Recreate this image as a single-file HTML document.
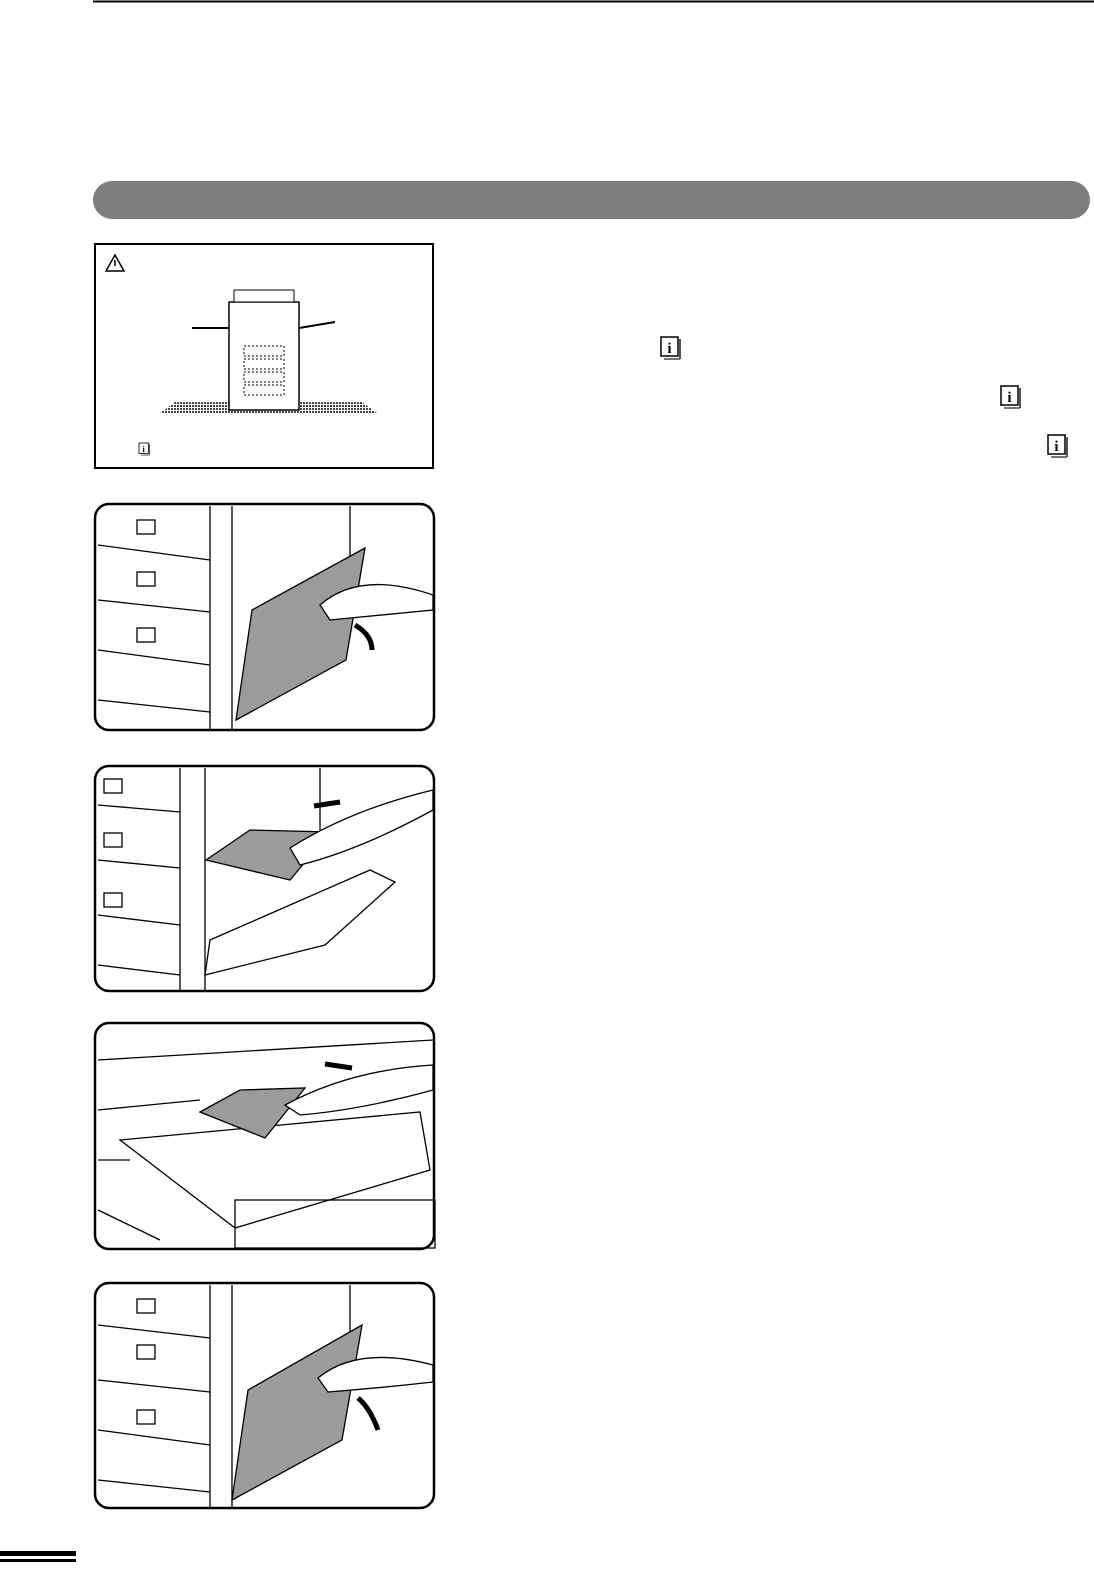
<!DOCTYPE html>
<html><head><style>
html,body{margin:0;padding:0;background:#fff;}
body{width:1094px;height:1572px;position:relative;overflow:hidden;font-family:"Liberation Sans",sans-serif;}
</style></head><body>
<svg width="1094" height="1572" viewBox="0 0 1094 1572" style="position:absolute;left:0;top:0">
<defs>
<pattern id="dots" width="3" height="3" patternUnits="userSpaceOnUse"><rect width="3" height="3" fill="#fff"/><rect width="2" height="2" fill="#444"/></pattern>
<g id="info"><rect x="0" y="0" width="17" height="19" fill="#fff" stroke="#000" stroke-width="1.5"/><rect x="3" y="21" width="16" height="2" fill="#777"/><rect x="18" y="2" width="2" height="20" fill="#555"/><text x="8.5" y="16" font-size="15" font-weight="bold" text-anchor="middle" font-family="Liberation Serif,serif">i</text></g>
</defs>
<line x1="93" y1="1.5" x2="1094" y2="1.5" stroke="#000" stroke-width="2"/>
<rect x="93" y="181" width="997" height="38" rx="19" fill="#7d7d7d"/>
<!-- box 1 -->
<rect x="95" y="244" width="338" height="224" fill="#fff" stroke="#000" stroke-width="2"/>
<path d="M115 255 L106 271 L124 271 Z" fill="none" stroke="#000" stroke-width="1.5"/><line x1="115" y1="260" x2="115" y2="266" stroke="#000" stroke-width="1.5"/>
<polygon points="160,413 175,402 362,402 377,413" fill="url(#dots)"/>
<rect x="229" y="302" width="70" height="108" fill="#fff" stroke="#000" stroke-width="1.5"/>
<rect x="234" y="290" width="60" height="12" fill="#fff" stroke="#000"/>
<path d="M192 328 L229 328 M299 328 L335 322" stroke="#000" stroke-width="2"/>
<g fill="none" stroke="#000" stroke-dasharray="2,2"><rect x="244" y="346" width="40" height="10"/><rect x="244" y="359" width="40" height="10"/><rect x="244" y="372" width="40" height="10"/><rect x="244" y="385" width="40" height="10"/></g>
<g transform="translate(139,443) scale(0.55)"><use href="#info"/></g>
<g transform="translate(661,337)"><use href="#info"/></g>
<g transform="translate(1001,386)"><use href="#info"/></g>
<g transform="translate(1048,435)"><use href="#info"/></g>
<!-- panels -->
<g fill="none" stroke="#000" stroke-width="2.5">
<rect x="95" y="504" width="339" height="226" rx="14"/>
<rect x="95" y="766" width="339" height="225" rx="14"/>
<rect x="95" y="1023" width="339" height="226" rx="14"/>
<rect x="95" y="1283" width="339" height="225" rx="14"/>
</g>
<g stroke="#000" stroke-width="1.3" fill="none">
<!-- panel 2 -->
<path d="M98 545 L210 560 M98 600 L210 612 M98 650 L210 665 M98 700 L210 712 M210 506 V729 M232 506 V729 M350 506 V600"/>
<rect x="137" y="520" width="18" height="14"/><rect x="137" y="572" width="18" height="14"/><rect x="137" y="628" width="18" height="14"/>
<path d="M236 720 L252 610 L365 548 L346 660 Z" fill="#9b9b9b"/>
<path d="M320 605 Q360 570 433 595 L433 610 Q380 615 330 620 Z" fill="#fff"/>
<path d="M355 625 Q372 635 372 650" stroke-width="5"/>
<!-- panel 3 -->
<path d="M98 805 L180 812 M98 860 L180 868 M98 915 L180 925 M98 965 L180 975 M180 768 V990 M205 768 V990 M320 768 V830"/>
<rect x="104" y="779" width="18" height="14"/><rect x="104" y="833" width="18" height="14"/><rect x="104" y="893" width="18" height="14"/>
<path d="M205 975 L210 940 L370 870 L395 882 L325 945 Z" fill="#fff"/>
<path d="M206 860 L250 830 L330 832 L290 880 Z" fill="#9b9b9b"/>
<path d="M290 848 Q350 810 433 790 L433 810 Q360 850 300 865 Z" fill="#fff"/>
<path d="M314 806 L340 802" stroke-width="5"/>
<!-- panel 4 -->
<path d="M98 1060 L433 1040 M98 1110 L200 1100 M98 1160 L130 1160 M98 1210 L160 1240 M120 1140 L420 1112 L430 1170 L235 1228 Z"/>
<path d="M200 1112 L240 1090 L305 1088 L265 1138 Z" fill="#9b9b9b"/>
<path d="M285 1105 Q350 1070 433 1065 L433 1090 Q360 1110 300 1115 Z" fill="#fff"/>
<path d="M325 1064 L352 1068" stroke-width="5"/>
<rect x="235" y="1200" width="200" height="48"/>
<!-- panel 5 -->
<path d="M98 1325 L210 1338 M98 1380 L210 1392 M98 1430 L210 1445 M98 1480 L210 1492 M210 1285 V1507 M232 1285 V1507 M350 1285 V1380"/>
<rect x="137" y="1299" width="18" height="14"/><rect x="137" y="1345" width="18" height="14"/><rect x="137" y="1410" width="18" height="14"/>
<path d="M232 1500 L248 1390 L362 1325 L342 1440 Z" fill="#9b9b9b"/>
<path d="M318 1378 Q358 1345 433 1365 L433 1382 Q380 1388 328 1392 Z" fill="#fff"/>
<path d="M378 1430 Q370 1408 358 1398" stroke-width="5"/>
</g>
<rect x="0" y="1551" width="76" height="5" fill="#000"/>
<rect x="0" y="1559" width="76" height="3" fill="#000"/>
</svg>
</body></html>
